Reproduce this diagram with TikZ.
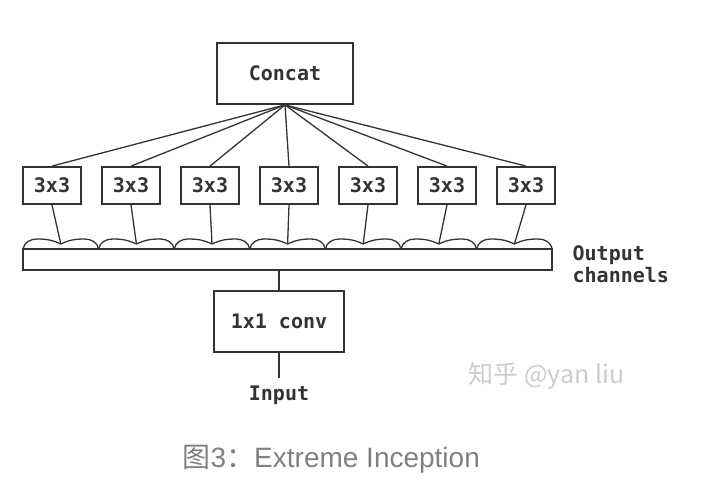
\documentclass[tikz,border=0pt]{standalone}
\usepackage{fontspec}
\setmainfont{Liberation Sans}
\setmonofont{DejaVu Sans Mono}
\newfontfamily\cjk{Noto Sans CJK SC}
\begin{document}
\begin{tikzpicture}[x=1pt,y=-1pt,line width=1.3pt,
	box/.style={draw=black!80,line width=1.8pt,inner sep=0pt,font=\ttfamily\bfseries\fontsize{20}{20}\selectfont,text=black!80},
	mono/.style={inner sep=0pt,font=\ttfamily\bfseries\fontsize{20}{22}\selectfont,text=black!80}]
	\useasboundingbox (0,0) rectangle (704,486);
	\node[box,minimum width=136pt,minimum height=61pt] (concat) at (285,73.5) {Concat};
	\node[draw=black!80,line width=1.8pt,minimum width=529pt,minimum height=21pt,inner sep=0pt] (bar) at (287.5,259.5) {};
	\foreach \i in {0,...,6}{
		\node[box,minimum width=58pt,minimum height=37pt] (k\i) at (52+79*\i,185.5) {3x3};
		\coordinate (f\i) at (60.8+75.6*\i,244);
		\draw[black!80] (concat.south) -- (k\i.north);
		\draw[black!80] (k\i.south) -- (f\i);
		\draw[black!80] (f\i) ++(-37.8,5) to[out=80,in=180] ++(14,-10) to[out=0,in=155] (f\i)
			to[out=25,in=180] ++(23.8,-5) to[out=0,in=100] ++(14,10);
	}
	\node[mono,align=left,anchor=west] (out) at (572,264) {Output\\channels};
	\node[box,minimum width=130pt,minimum height=61pt] (conv) at (279,321.5) {1x1 conv};
	\draw[black!80] (bar.south -| conv.north) -- (conv.north);
	\node[mono,inner ysep=7pt] (input) at (279,395) {Input};
	\draw[black!80] (conv.south) -- (input.north);
	\node[anchor=base west,inner sep=0pt,text=black!20,font=\cjk\fontsize{25}{25}\selectfont] (mark) at (468,383) {知乎 @yan liu};
	\node[anchor=base west,inner sep=0pt,text=black!50,font=\fontsize{28}{28}\selectfont] (cap) at (182,467) {{\cjk 图}3{\cjk ：}Extreme Inception};
\end{tikzpicture}
\end{document}
